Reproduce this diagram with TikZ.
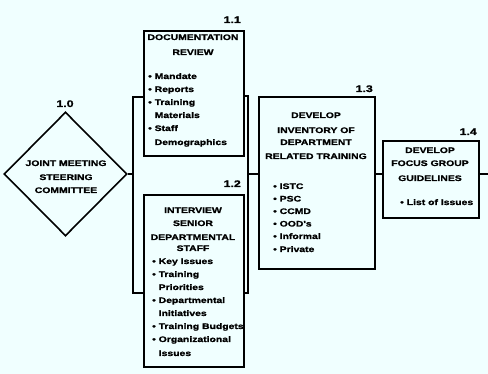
\documentclass[tikz,border=0pt]{standalone}
\usepackage{fontspec}
\setmainfont{Liberation Sans}
\newfontfamily\lab{Liberation Sans}[FakeStretch=1.3,FakeBold=1.2]
\usetikzlibrary{shapes.geometric}
\definecolor{bgc}{RGB}{240,255,255}
\begin{document}
\begin{tikzpicture}[x=1pt,y=-1pt,
  box/.style={draw,line width=1.6pt,rectangle,inner sep=0pt,anchor=north west},
  ttl/.style={font=\lab\bfseries\fontsize{8}{9}\selectfont,anchor=base,inner sep=0pt},
  itm/.style={font=\lab\bfseries\fontsize{8}{9}\selectfont,anchor=base west,inner sep=0pt},
  num/.style={font=\lab\bfseries\fontsize{9.5}{10}\selectfont,anchor=base east,inner sep=0pt},
  conn/.style={line width=1.3pt},
  brk/.style={line width=1.5pt}]
\fill[bgc] (0,0) rectangle (488,374);
\useasboundingbox (0,0) rectangle (488,374);
\newcommand{\ind}{\hphantom{\textbullet\ }}

% diamond 1.0
\node[draw,diamond,line width=1.6pt,inner sep=0pt,minimum width=123pt,minimum height=124pt] (dia) at (65.5,174) {};
\node[num,anchor=base] (n10) at (65,107) {1.0};
\node[ttl] (d1) at (66,166) {JOINT MEETING};
\node[ttl] (d2) at (66,180) {STEERING};
\node[ttl] (d3) at (66,193) {COMMITTEE};

% box 1.1
\node[box,minimum width=100pt,minimum height=125pt] (b11) at (143,30) {};
\node[num] (n11) at (241,23) {1.1};
\node[ttl] (t11a) at (193,40) {DOCUMENTATION};
\node[ttl] (t11b) at (193,55) {REVIEW};
\node[itm] (i11a) at (148,79) {\textbullet\ Mandate};
\node[itm] (i11b) at (148,92) {\textbullet\ Reports};
\node[itm] (i11c) at (148,105) {\textbullet\ Training};
\node[itm] (i11d) at (148,118) {\ind Materials};
\node[itm] (i11e) at (148,131) {\textbullet\ Staff};
\node[itm] (i11f) at (148,145) {\ind Demographics};

% box 1.2
\node[box,minimum width=100pt,minimum height=172pt] (b12) at (143,194) {};
\node[num] (n12) at (241,187) {1.2};
\node[ttl] (t12a) at (193,213) {INTERVIEW};
\node[ttl] (t12b) at (193,226) {SENIOR};
\node[ttl] (t12c) at (193,240) {DEPARTMENTAL};
\node[ttl] (t12d) at (193,251) {STAFF};
\node[itm] (i12a) at (152,264) {\textbullet\ Key Issues};
\node[itm] (i12b) at (152,277) {\textbullet\ Training};
\node[itm] (i12c) at (152,290) {\ind Priorities};
\node[itm] (i12d) at (152,303) {\textbullet\ Departmental};
\node[itm] (i12e) at (152,316) {\ind Initiatives};
\node[itm] (i12f) at (152,329) {\textbullet\ Training Budgets};
\node[itm] (i12g) at (152,342) {\textbullet\ Organizational};
\node[itm] (i12h) at (152,356) {\ind Issues};

% box 1.3
\node[box,minimum width=116pt,minimum height=172pt] (b13) at (258,96) {};
\node[num] (n13) at (373,92) {1.3};
\node[ttl] (t13a) at (316,118) {DEVELOP};
\node[ttl] (t13b) at (316,133) {INVENTORY OF};
\node[ttl] (t13c) at (316,145) {DEPARTMENT};
\node[ttl] (t13d) at (316,159) {RELATED TRAINING};
\node[itm] (i13a) at (273,189) {\textbullet\ ISTC};
\node[itm] (i13b) at (273,201.5) {\textbullet\ PSC};
\node[itm] (i13c) at (273,214) {\textbullet\ CCMD};
\node[itm] (i13d) at (273,226.5) {\textbullet\ OOD's};
\node[itm] (i13e) at (273,239) {\textbullet\ Informal};
\node[itm] (i13f) at (273,252) {\textbullet\ Private};

% box 1.4
\node[box,minimum width=96pt,minimum height=77pt] (b14) at (382,140) {};
\node[num] (n14) at (477,135) {1.4};
\node[ttl] (t14a) at (430,153) {DEVELOP};
\node[ttl] (t14b) at (430,166) {FOCUS GROUP};
\node[ttl] (t14c) at (430,181) {GUIDELINES};
\node[itm] (i14a) at (400,205) {\textbullet\ List of Issues};

% brackets
\draw[brk] (143,97) -- (133,97) -- (133,293) -- (143,293);
\draw[brk] (243,96) -- (248,96) -- (248,293) -- (243,293);
\coordinate (lb) at (133,174);
\coordinate (rb) at (248,174);
\coordinate (out) at (488,174);

% connectors
\draw[conn] (dia.east) -- (lb);
\draw[conn] (rb) -- (rb -| b13.west);
\draw[conn] (rb -| b13.east) -- (rb -| b14.west);
\draw[conn] (rb -| b14.east) -- (out);
\end{tikzpicture}
\end{document}
